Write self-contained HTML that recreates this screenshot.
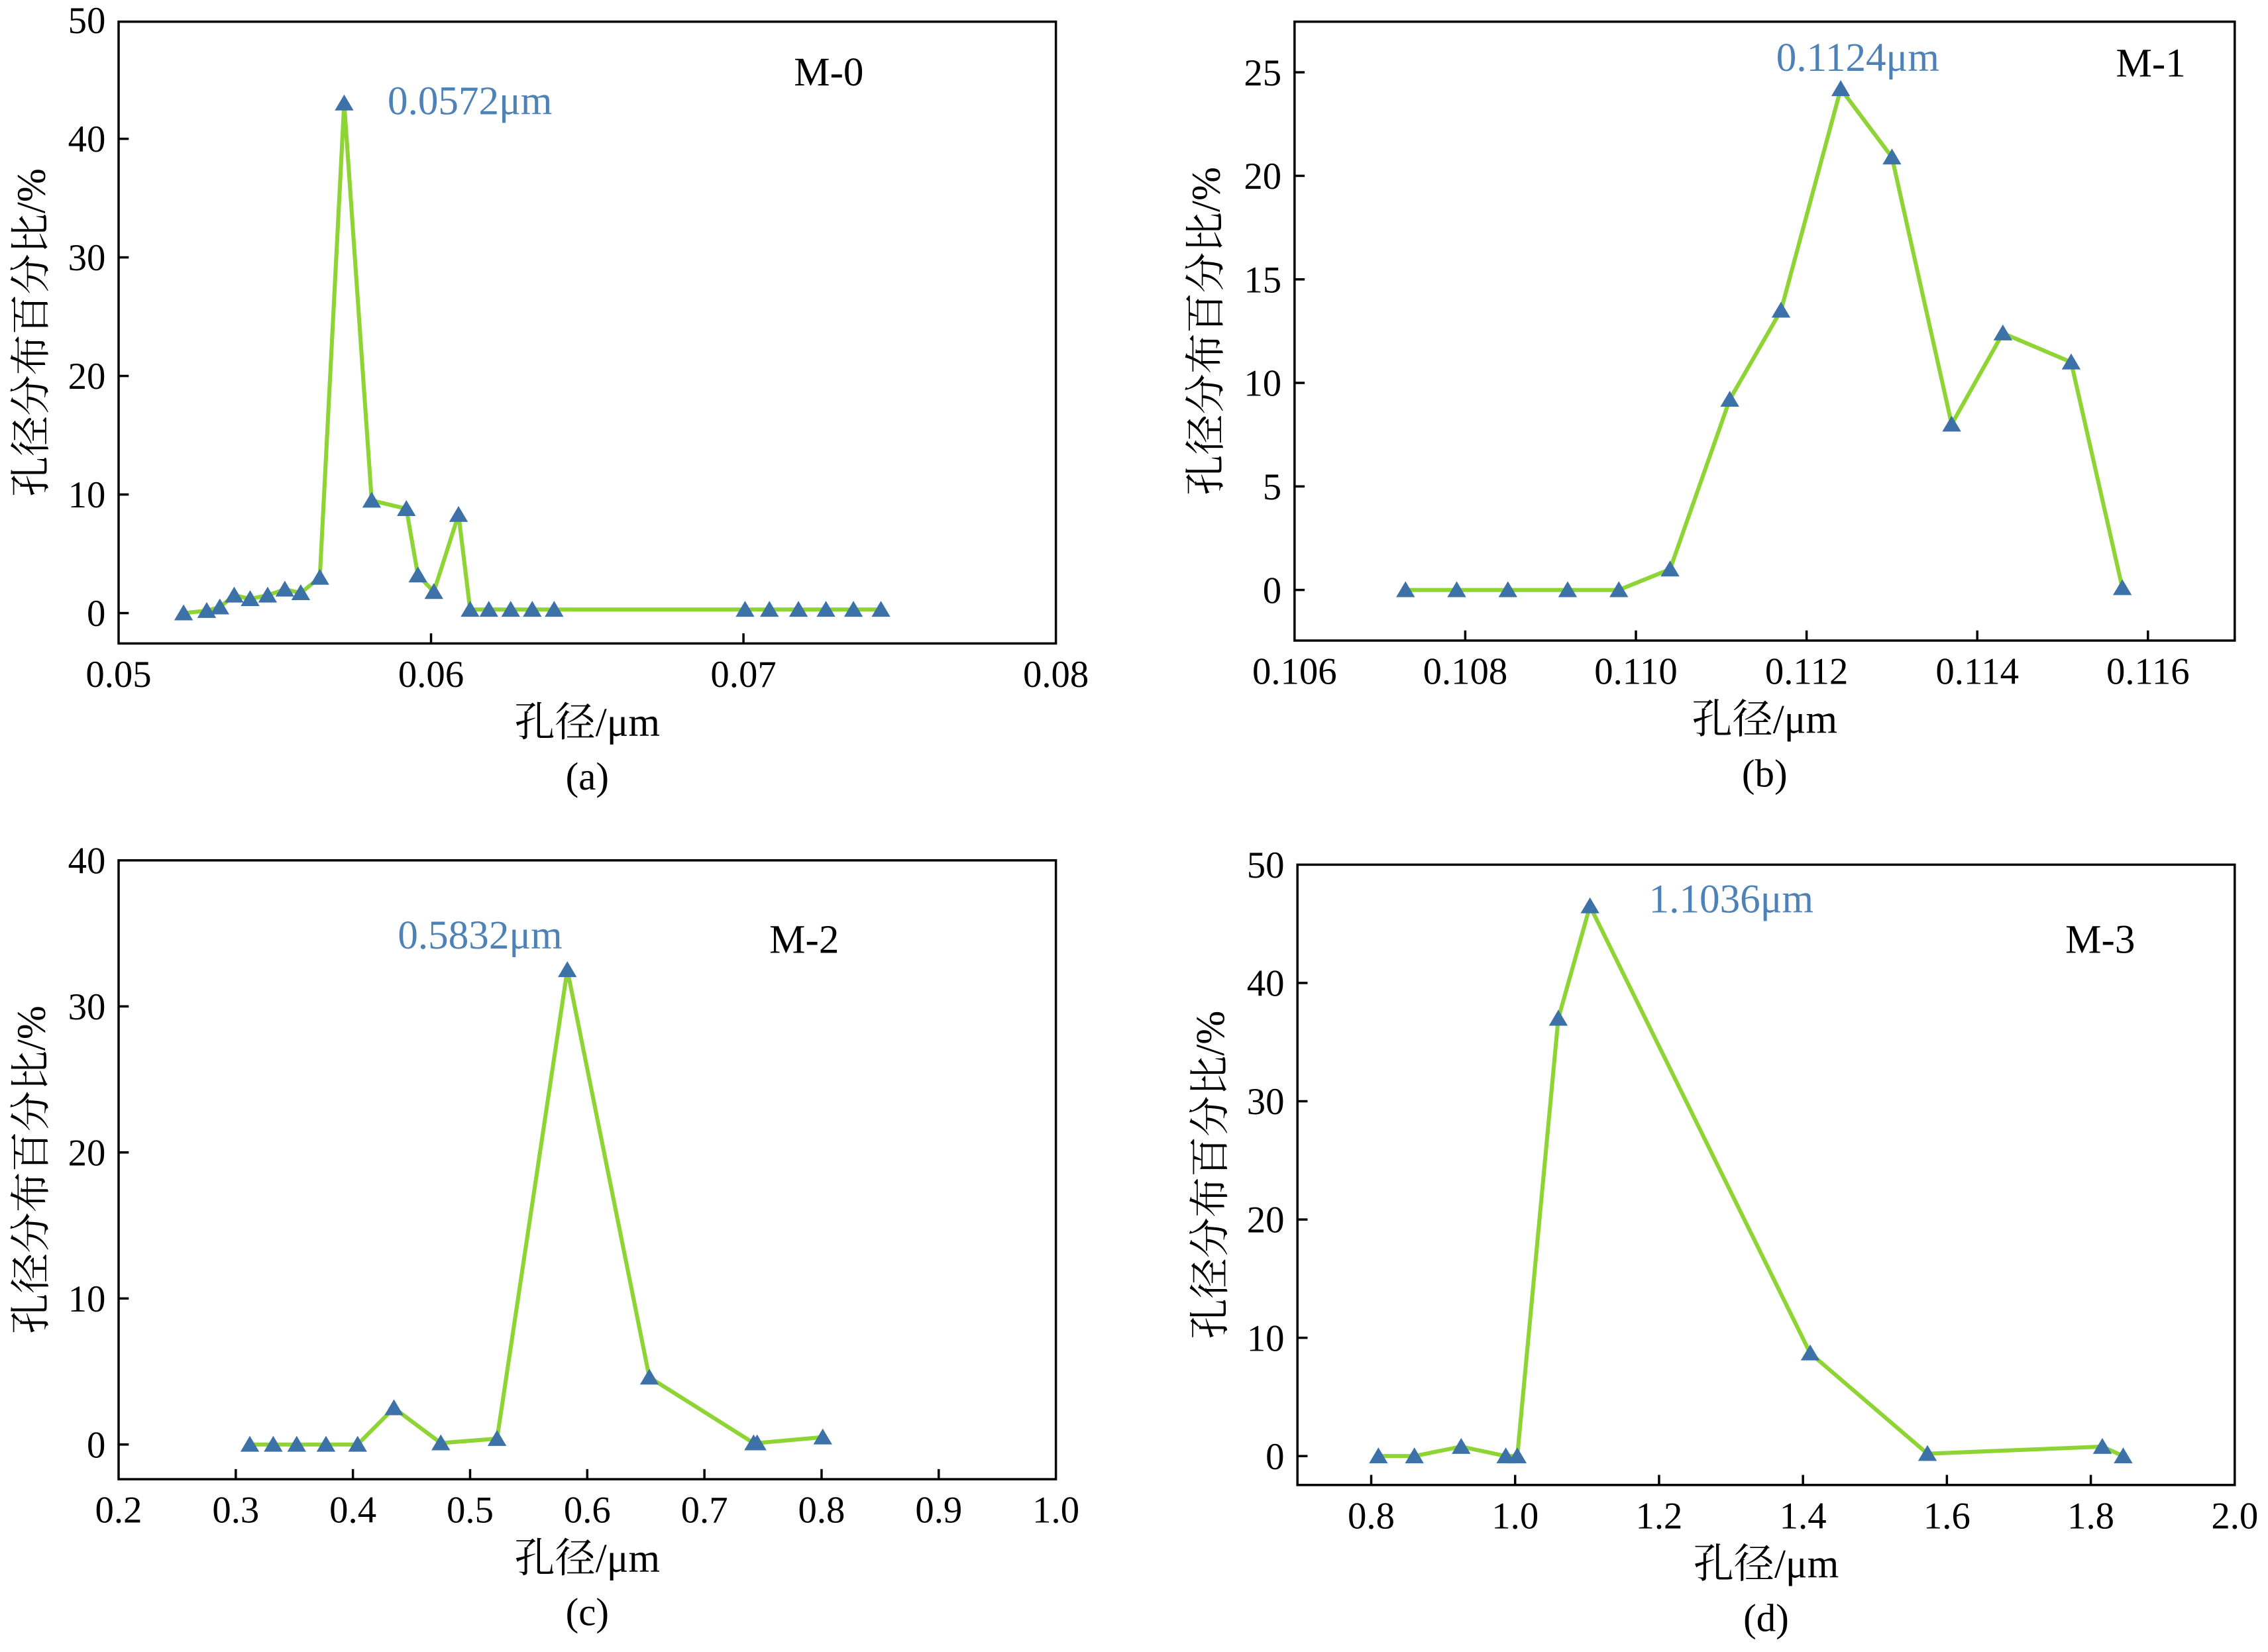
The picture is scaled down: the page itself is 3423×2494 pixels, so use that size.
<!DOCTYPE html>
<html><head><meta charset="utf-8"><style>
html,body{margin:0;padding:0;background:#fff}
svg{display:block}
text{font-family:"Liberation Serif","Noto Serif CJK SC",serif;fill:#000}
</style></head><body>
<svg id="fig" width="3423" height="2494" viewBox="0 0 1568 1142.5" preserveAspectRatio="none" xmlns="http://www.w3.org/2000/svg"></svg>
<script>
// Panel (a) M-0
const aX = [0.05208,0.05282,0.05324,0.0537,0.05421,0.05477,0.05532,0.05583,0.05644,0.05722,0.0581,0.05921,0.05958,0.06009,0.06088,0.06125,0.06185,0.06255,0.06324,0.06394,0.07005,0.07083,0.07176,0.07264,0.07352,0.0744];
const aY = [0,0.2,0.5,1.5,1.2,1.5,2,1.7,3,43,9.5,8.8,3.2,1.8,8.3,0.3,0.3,0.3,0.3,0.3,0.3,0.3,0.3,0.3,0.3,0.3];
const aXTicks = [0.05,0.06,0.07,0.08];
const aXTickLabels = ["0.05","0.06","0.07","0.08"];
const aYTicks = [0,10,20,30,40,50];
// Panel (b) M-1
const bX = [0.1073,0.1079,0.1085,0.1092,0.1098,0.1104,0.1111,0.1117,0.1124,0.1130,0.1137,0.1143,0.1151,0.1157];
const bY = [0,0,0,0,0,1,9.2,13.5,24.2,20.9,8,12.4,11,0.1];
const bXTicks = [0.106,0.108,0.110,0.112,0.114,0.116];
const bXTickLabels = ["0.106","0.108","0.110","0.112","0.114","0.116"];
const bYTicks = [0,5,10,15,20,25];
// Panel (c) M-2
const cX = [0.312,0.332,0.352,0.377,0.404,0.435,0.475,0.523,0.583,0.653,0.742,0.745,0.801];
const cY = [0,0,0,0,0,2.5,0.1,0.4,32.5,4.6,0.1,0.1,0.5];
const cXTicks = [0.2,0.3,0.4,0.5,0.6,0.7,0.8,0.9,1.0];
const cXTickLabels = ["0.2","0.3","0.4","0.5","0.6","0.7","0.8","0.9","1.0"];
const cYTicks = [0,10,20,30,40];
// Panel (d) M-3
const dX = [0.81,0.86,0.925,0.987,1.003,1.06,1.104,1.41,1.573,1.816,1.845];
const dY = [0,0,0.8,0,0,37,46.5,8.7,0.2,0.8,0];
const dXTicks = [0.8,1.0,1.2,1.4,1.6,1.8,2.0];
const dXTickLabels = ["0.8","1.0","1.2","1.4","1.6","1.8","2.0"];
const dYTicks = [0,10,20,30,40,50];

const NS="http://www.w3.org/2000/svg";
const svg=document.getElementById('fig');
function mk(tag,attrs,parent,txt){const e=document.createElementNS(NS,tag);for(const k in attrs)e.setAttribute(k,attrs[k]);if(txt!==undefined)e.textContent=txt;(parent||svg).appendChild(e);return e;}

function panel(cfg){
  const g=mk('g',{});
  
  
  const L=cfg.box[0],T=cfg.box[1],R=cfg.box[2],B=cfg.box[3];
  const sx=v=>cfg.xp0+(v-cfg.xv0)*(cfg.xp1-cfg.xp0)/(cfg.xv1-cfg.xv0);
  const sy=v=>cfg.yp0+(v-cfg.yv0)*(cfg.yp1-cfg.yp0)/(cfg.yv1-cfg.yv0);
  const box=mk('rect',{x:L,y:T,width:R-L,height:B-T,fill:'none',stroke:'#000','stroke-width':1.6},g);
  
  
  cfg.xt.forEach((v,i)=>{
    const x=sx(v);
    if(x>L+1&&x<R-1){const t=mk('line',{x1:x,y1:B,x2:x,y2:B-7,stroke:'#000','stroke-width':1.6},g);
      }
    const lb=mk('text',{x:x,y:B+30,'text-anchor':'middle','font-size':26},g,cfg.xl[i]);
    
  });
  cfg.yt.forEach(v=>{
    const y=sy(v);
    if(y>T+1&&y<B-1){const t=mk('line',{x1:L,y1:y,x2:L+7,y2:y,stroke:'#000','stroke-width':1.6},g);
      }
    const lb=mk('text',{x:L-9,y:y+9,'text-anchor':'end','font-size':26},g,String(v));
    
  });
  const pts=cfg.x.map((v,i)=>sx(v).toFixed(2)+','+sy(cfg.y[i]).toFixed(2)).join(' ');
  const line=mk('polyline',{points:pts,fill:'none',stroke:'#8fd435','stroke-width':2.8,'stroke-linejoin':'round'},g);
  
  
  cfg.x.forEach((v,i)=>{
    const px=sx(v),py=sy(cfg.y[i]);
    const m=mk('polygon',{points:`${px},${py-6} ${px-6.5},${py+5} ${px+6.5},${py+5}`,fill:'#3d72a8'},g);
    
    
  });
  const yl=mk('text',{x:0,y:0,'text-anchor':'middle','font-size':28,transform:`translate(${cfg.ylx},${(T+B)/2}) rotate(-90)`},g,'孔径分布百分比/%');
  
  const xl=mk('text',{x:(L+R)/2,y:B+64,'text-anchor':'middle','font-size':28},g,'孔径/μm');
  
  const sl=mk('text',{x:(L+R)/2,y:B+101,'text-anchor':'middle','font-size':27},g,cfg.sub);
  
  const nm=mk('text',{x:cfg.nameXY[0],y:cfg.nameXY[1],'text-anchor':'middle','font-size':28},g,cfg.name);
  
  const an=mk('text',{x:cfg.annXY[0],y:cfg.annXY[1],'text-anchor':'start','font-size':28,style:'fill:#4e82b6'},g,cfg.ann);
  
}

panel({id:'a',box:[82,15,730,445],xv0:0.05,xv1:0.08,xp0:82,xp1:730,yv0:0,yv1:50,yp0:424,yp1:14,
  x:aX,y:aY,xt:aXTicks,xl:aXTickLabels,yt:aYTicks,ylx:31,sub:'(a)',name:'M-0',nameXY:[573,59],ann:'0.0572μm',annXY:[268,79]});
panel({id:'b',box:[895,15,1545,443],xv0:0.106,xv1:0.116,xp0:895,xp1:1485,yv0:0,yv1:25,yp0:408,yp1:50,
  x:bX,y:bY,xt:bXTicks,xl:bXTickLabels,yt:bYTicks,ylx:843,sub:'(b)',name:'M-1',nameXY:[1487,53],ann:'0.1124μm',annXY:[1228,49]});
panel({id:'c',box:[82,595,730,1023],xv0:0.2,xv1:1.0,xp0:82,xp1:730,yv0:0,yv1:40,yp0:999,yp1:595,
  x:cX,y:cY,xt:cXTicks,xl:cXTickLabels,yt:cYTicks,ylx:31,sub:'(c)',name:'M-2',nameXY:[556,659],ann:'0.5832μm',annXY:[275,656]});
panel({id:'d',box:[897,598,1545,1027],xv0:0.8,xv1:2.0,xp0:948,xp1:1545,yv0:0,yv1:50,yp0:1007,yp1:598,
  x:dX,y:dY,xt:dXTicks,xl:dXTickLabels,yt:dYTicks,ylx:846,sub:'(d)',name:'M-3',nameXY:[1452,659],ann:'1.1036μm',annXY:[1140,631]});
</script>
</body></html>
